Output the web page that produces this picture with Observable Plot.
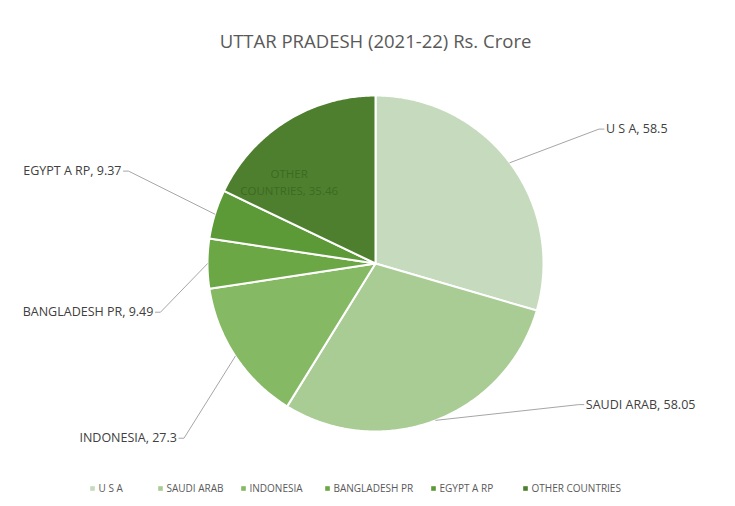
<!DOCTYPE html>
<html>
<head>
<meta charset="utf-8">
<script src="https://cdn.jsdelivr.net/npm/d3@7"></script>
<script src="https://cdn.jsdelivr.net/npm/@observablehq/plot@0.6"></script>
<style>
  html, body { margin: 0; padding: 0; background: #fff; }
  #chart { width: 735px; height: 506px; }
</style>
</head>
<body>
<div id="chart"></div>
<script>
// ---- data ----
const title = "UTTAR PRADESH (2021-22) Rs. Crore";
const countries = ["U S A", "SAUDI ARAB", "INDONESIA", "BANGLADESH PR", "EGYPT A RP", "OTHER COUNTRIES"];
const values = [58.5, 58.05, 27.3, 9.49, 9.37, 35.46];
const dataLabels = ["U S A, 58.5", "SAUDI ARAB, 58.05", "INDONESIA, 27.3", "BANGLADESH PR, 9.49", "EGYPT A RP, 9.37", "OTHER\nCOUNTRIES, 35.46"];
const colors = ["#c6dbbd", "#a8cc94", "#86b964", "#6ba744", "#5c9a38", "#4e7f2e"];

// ---- layout (pixels) ----
const W = 735, H = 506;
const cx = 375, cy = 263, R = 168;
// label leader geometry: elbow point (unit coordinates relative to radius)
const labelElbow = [[1.33, 0.80], [1.21, -0.84], [-1.14, -1.04], [-1.28, -0.29], [-1.47, 0.55], null];
const labelAnchor = ["start", "start", "end", "end", "end", null];

const pie = d3.pie().sort(null).value(d => d)(values);

// slice polygons in unit coords (angle 0 = top, clockwise)
const pt = (a, r) => [r * Math.sin(a), r * Math.cos(a)];
const slices = [];
pie.forEach((p, i) => {
  const n = Math.max(2, Math.ceil((p.endAngle - p.startAngle) / 0.01));
  const pts = [[0, 0]];
  for (let k = 0; k <= n; k++) {
    const a = p.startAngle + (p.endAngle - p.startAngle) * k / n;
    pts.push(pt(a, 1));
  }
  pts.push([0, 0]);
  pts.forEach(([x, y]) => slices.push({country: countries[i], x, y}));
});

// leader lines
const leaders = [];
const labels = [];
pie.forEach((p, i) => {
  if (!labelElbow[i]) return;
  const mid = (p.startAngle + p.endAngle) / 2;
  const [sx, sy] = pt(mid, 1.0);
  const [ex, ey] = labelElbow[i];
  const hx = ex + (labelAnchor[i] === "start" ? 0.03 : -0.03);
  leaders.push({id: i, x: sx, y: sy}, {id: i, x: ex, y: ey}, {id: i, x: hx, y: ey});
  labels.push({x: hx, y: ey, text: dataLabels[i], anchor: labelAnchor[i]});
});
// inside label for OTHER COUNTRIES (Excel places it toward the slice edge)
const [ox, oy] = pt(pie[5].startAngle + (pie[5].endAngle - pie[5].startAngle) * 0.28, 0.71);

// scales mapping unit coords to pixels
const xDom = [-cx / R, (W - cx) / R];
const yDom = [cy / R, -(H - cy) / R];
const toX = px => xDom[0] + (px / W) * (xDom[1] - xDom[0]);
const toY = py => yDom[0] + (py / H) * (yDom[1] - yDom[0]);

// legend
const legendX = [92, 160, 243, 327, 433, 525];
const legend = countries.map((c, i) => ({c, px: legendX[i]}));

const font = "'Open Sans', 'Noto Sans', sans-serif";

const chart = Plot.plot({
  width: W,
  height: H,
  margin: 0,
  x: {domain: xDom, range: [0, W], axis: null},
  y: {domain: yDom, range: [0, H], axis: null},
  color: {domain: countries, range: colors},
  style: {fontFamily: font, background: "#fff"},
  marks: [
    Plot.line(slices, {x: "x", y: "y", z: "country", fill: "country", stroke: "white", strokeWidth: 2, strokeLinejoin: "round"}),
    Plot.line(leaders, {x: "x", y: "y", z: "id", stroke: "#a6a6a6", strokeWidth: 1}),
    Plot.text(labels.filter(d => d.anchor === "start"), {x: "x", y: "y", text: "text", textAnchor: "start", dx: 2, fill: "#404040", fontSize: 12.5}),
    Plot.text(labels.filter(d => d.anchor === "end"), {x: "x", y: "y", text: "text", textAnchor: "end", dx: -2, fill: "#404040", fontSize: 12.5}),
    Plot.text([{x: ox, y: oy, t: dataLabels[5]}], {x: "x", y: "y", text: "t", fill: "#3b6a22", fontSize: 11.5, lineHeight: 1.45}),
    Plot.text([title], {x: toX(375), y: toY(42), text: d => d, fill: "#595959", fontSize: 18.5}),
    Plot.dot(legend, {x: d => toX(d.px), y: toY(488), fill: "c", symbol: "square", r: 2.6}),
    Plot.text(legend, {x: d => toX(d.px), y: toY(488), text: "c", dx: 6, textAnchor: "start", fill: "#595959", fontSize: 10})
  ]
});
document.getElementById("chart").appendChild(chart);
</script>
</body>
</html>
